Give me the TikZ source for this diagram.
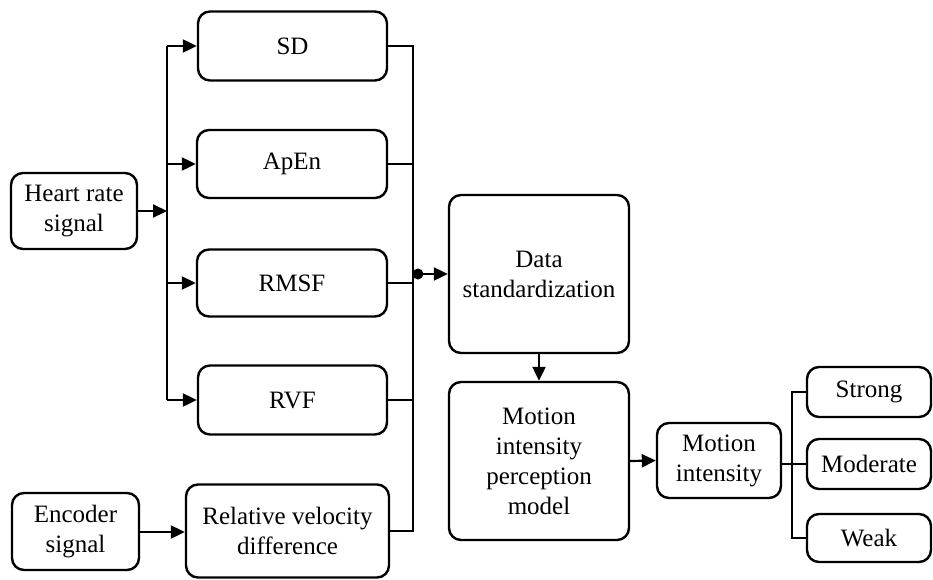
\documentclass[tikz,border=0pt]{standalone}
\usepackage{fontspec}
\setmainfont{Liberation Serif}
\usetikzlibrary{arrows.meta}
\begin{document}
\begin{tikzpicture}[x=1pt,y=-1pt,
  box/.style={draw, line width=2.4pt, rounded corners=12pt, align=center, inner sep=0pt, font=\fontsize{25}{30}\selectfont},
  conn/.style={line width=2.2pt},
  arr/.style={conn, -{Triangle[length=14pt,width=13pt]}},
]
\useasboundingbox (0,0) rectangle (933,579);
% left inputs
\node[box, minimum width=126pt, minimum height=76pt] (hr) at (74,211) {Heart rate\\signal};
\node[box, minimum width=127pt, minimum height=77pt] (enc) at (75.5,531.5) {Encoder\\signal};
% features
\node[box, minimum width=189pt, minimum height=69pt] (sd) at (292.5,46) {SD};
\node[box, minimum width=190pt, minimum height=68pt] (apen) at (292,164) {ApEn};
\node[box, minimum width=190pt, minimum height=67pt] (rmsf) at (292,283) {RMSF};
\node[box, minimum width=189pt, minimum height=69pt] (rvf) at (292.5,400) {RVF};
\node[box, minimum width=203pt, minimum height=93pt] (rvd) at (287.5,531) {Relative velocity\\difference};
% middle
\node[box, minimum width=180pt, minimum height=158pt] (ds) at (539,274) {Data\\standardization};
\node[box, minimum width=180pt, minimum height=158pt] (mipm) at (539,461) {Motion\\intensity\\perception\\model};
\node[box, minimum width=124pt, minimum height=75pt] (mi) at (719,460.5) {Motion\\intensity};
% outputs
\node[box, minimum width=124pt, minimum height=50pt] (strong) at (869,392) {Strong};
\node[box, minimum width=124pt, minimum height=50pt] (mod) at (869,464) {Moderate};
\node[box, minimum width=124pt, minimum height=48pt] (weak) at (869,538) {Weak};
% coordinates
\coordinate (bl) at (167,211);
\coordinate (br) at (413,274);
\coordinate (bo) at (792,464);
% left bus
\draw[arr] (hr.east) -- (bl);
\draw[conn] (bl |- sd.west) -- (bl |- rvf.west);
\draw[arr] (bl |- sd.west) -- (sd.west);
\draw[arr] (bl |- apen.west) -- (apen.west);
\draw[arr] (bl |- rmsf.west) -- (rmsf.west);
\draw[arr] (bl |- rvf.west) -- (rvf.west);
% encoder
\draw[arr] (enc.east |- rvd.west) ++(0,1) -- ([yshift=-1pt]rvd.west);
% right bus
\draw[conn] (sd.east) -- (br |- sd.east) -- (br |- rvd.east) -- (rvd.east);
\draw[conn] (apen.east) -- (br |- apen.east);
\draw[conn] (rmsf.east) -- (br |- rmsf.east);
\draw[conn] (rvf.east) -- (br |- rvf.east);
\node[circle, fill, inner sep=0pt, minimum size=11pt] (dot) at (418,274) {};
\draw[arr] (dot.center) -- (ds.west);
% middle flow
\draw[arr] (ds.south) -- (mipm.north);
\draw[arr] (mipm.east) -- (mi.west);
% outputs bus
\draw[conn] (mi.east |- mod.west) -- (mod.west);
\draw[conn] (strong.west) -- (bo |- strong.west) -- (bo |- weak.west) -- (weak.west);
\end{tikzpicture}
\end{document}
